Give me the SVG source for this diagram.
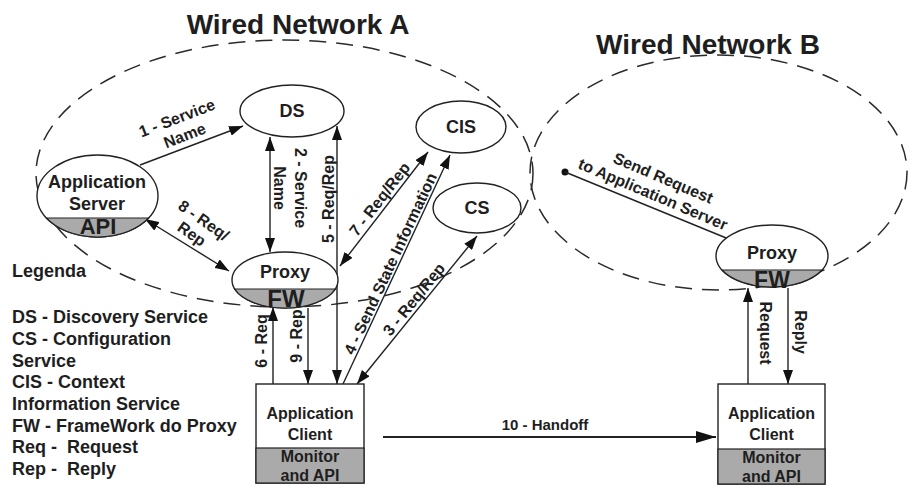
<svg xmlns="http://www.w3.org/2000/svg" width="910" height="486" viewBox="0 0 910 486">
<style>
text{font-family:"Liberation Sans",Arial,sans-serif;font-weight:bold;fill:#1e1e1e}
.t18{font-size:18px}
.t16{font-size:16px}
.lbl{font-size:16px}
.mid{text-anchor:middle}
.title{font-size:28px}
.net{fill:none;stroke:#2a2a2a;stroke-width:1.5;stroke-dasharray:17 10}
.node{fill:#fff;stroke:#222;stroke-width:1.4}
.gray{fill:#aaaaaa;stroke:#222;stroke-width:1.2}
.c{fill:none;stroke:#222;stroke-width:1.4}
.ab{marker-end:url(#ah)}
.as{marker-start:url(#ah)}
.pre{white-space:pre}
</style>
<defs>
<marker id="ah" viewBox="0 0 14 10" refX="14" refY="5" markerWidth="14" markerHeight="10" markerUnits="userSpaceOnUse" orient="auto-start-reverse">
<path d="M0,0 L14,5 L0,10 Z" fill="#111"/>
</marker>
<marker id="ahb" viewBox="0 0 20 12" refX="20" refY="6" markerWidth="20" markerHeight="12" markerUnits="userSpaceOnUse" orient="auto">
<path d="M0,0 L20,6 L0,12 Z" fill="#111"/>
</marker>
</defs>
<rect width="910" height="486" fill="#fff"/>

<g id="networkA">
<ellipse class="net" cx="284.5" cy="173.5" rx="248.5" ry="133.5"/>
<text class="title mid" x="298" y="34">Wired Network A</text>
</g>
<g id="networkB">
<ellipse class="net" cx="718.5" cy="172.5" rx="188.5" ry="117.5"/>
<text class="title mid" x="708" y="54">Wired Network B</text>
</g>

<g id="connectors">
<line class="c ab" x1="140" y1="165" x2="243" y2="126"/>
<line class="c ab as" x1="270" y1="137" x2="270" y2="252"/>
<line class="c ab as" x1="337" y1="126" x2="337" y2="384"/>
<line class="c ab as" x1="340" y1="266" x2="428" y2="152"/>
<line class="c ab" x1="343" y1="384" x2="450" y2="155"/>
<line class="c ab as" x1="357" y1="384" x2="477" y2="236"/>
<line class="c ab" x1="273" y1="384" x2="273" y2="307"/>
<line class="c ab" x1="308" y1="308" x2="308" y2="384"/>
<line class="c ab as" x1="145" y1="219" x2="229" y2="271"/>
<line class="c" x1="383" y1="437" x2="716" y2="437" style="stroke-width:2.2" marker-end="url(#ahb)"/>
<circle cx="565" cy="172" r="3.5" fill="#111"/>
<line class="c" x1="565" y1="172" x2="736" y2="242"/>
<line class="c ab" x1="748" y1="384" x2="748" y2="288"/>
<line class="c ab" x1="788" y1="288" x2="788" y2="384"/>

<g transform="translate(180,126) rotate(-21)">
<text class="lbl mid" x="0" y="-3">1 - Service</text>
<text class="lbl mid" x="1" y="16">Name</text>
</g>
<g transform="translate(288,188) rotate(90)">
<text class="lbl mid" x="0" y="-7">2 - Service</text>
<text class="lbl mid" x="0" y="14">Name</text>
</g>
<text class="lbl mid" transform="translate(334,199) rotate(-90)">5 - Req/Rep</text>
<text class="lbl mid" transform="translate(384,202.5) rotate(-52.3)">7 - Req/Rep</text>
<text class="lbl mid" transform="translate(395.4,266) rotate(-65)">4 - Send State Information</text>
<text class="lbl mid" transform="translate(418.3,302.8) rotate(-51)">3 - Req/Rep</text>
<g transform="translate(204,220) rotate(35)">
<text class="lbl mid" x="0" y="6">8 - Req/</text>
<text class="lbl mid" x="-2" y="24">Rep</text>
</g>
<text class="lbl mid" transform="translate(267,341) rotate(-90)">6 - Req</text>
<text class="lbl mid" transform="translate(302,336) rotate(-90)">9 - Rep</text>
<text class="lbl mid" transform="translate(760,333) rotate(90)">Request</text>
<text class="lbl mid" transform="translate(795,332) rotate(90)">Reply</text>
<text class="mid" x="545" y="430" style="font-size:15px">10 - Handoff</text>
<g transform="translate(661,183) rotate(23)">
<text class="lbl mid" x="0" y="0">Send Request</text>
<text class="lbl mid" x="-3" y="19">to Application Server</text>
</g>
</g>

<g id="ds">
<ellipse class="node" cx="292" cy="111" rx="52" ry="26"/>
<text class="t18 mid" x="292" y="117">DS</text>
</g>
<g id="cis">
<ellipse class="node" cx="461" cy="127" rx="45" ry="26"/>
<text class="t18 mid" x="461" y="133">CIS</text>
</g>
<g id="cs">
<ellipse class="node" cx="477" cy="208" rx="44" ry="25"/>
<text class="t18 mid" x="477" y="214">CS</text>
</g>
<g id="appServer">
<ellipse class="node" cx="97.5" cy="196" rx="60.5" ry="41"/>
<path class="gray" d="M46.4,218 L148.6,218 A60.5,41 0 0 1 46.4,218 Z"/>
<text class="t18 mid" x="97" y="188">Application</text>
<text class="t18 mid" x="97" y="210">Server</text>
<text class="mid" x="98" y="234" style="font-size:22px">API</text>
</g>
<g id="proxyA">
<ellipse class="node" cx="285" cy="280" rx="53" ry="28"/>
<path class="gray" d="M234.8,289 L335.2,289 A53,28 0 0 1 234.8,289 Z"/>
<text class="t18 mid" x="285" y="278">Proxy</text>
<text class="mid" x="286" y="307" style="font-size:24px">FW</text>
</g>
<g id="proxyB">
<ellipse class="node" cx="772" cy="256" rx="56" ry="31"/>
<path class="gray" d="M722,270 L822,270 A56,31 0 0 1 722,270 Z"/>
<text class="t18 mid" x="772" y="259">Proxy</text>
<text class="mid" x="772" y="288" style="font-size:23px">FW</text>
</g>
<g id="clientA">
<rect class="node" x="256" y="384" width="108" height="99"/>
<rect class="gray" x="256" y="448" width="108" height="35"/>
<text class="t16 mid" x="310" y="419">Application</text>
<text class="t16 mid" x="310" y="440">Client</text>
<text class="t16 mid" x="310" y="462">Monitor</text>
<text class="t16 mid" x="310" y="481">and API</text>
</g>
<g id="clientB">
<rect class="node" x="718" y="384" width="107" height="100"/>
<rect class="gray" x="718" y="449" width="107" height="35"/>
<text class="t16 mid" x="771.5" y="419">Application</text>
<text class="t16 mid" x="771.5" y="440">Client</text>
<text class="t16 mid" x="771.5" y="463">Monitor</text>
<text class="t16 mid" x="771.5" y="482">and API</text>
</g>

<g id="legend">
<text class="t18" x="12" y="277">Legenda</text>
<text class="t18" x="12" y="323">DS - Discovery Service</text>
<text class="t18" x="12" y="345">CS - Configuration</text>
<text class="t18" x="12" y="367">Service</text>
<text class="t18" x="12" y="388">CIS - Context</text>
<text class="t18" x="12" y="410">Information Service</text>
<text class="t18" x="12" y="432">FW - FrameWork do Proxy</text>
<text class="t18 pre" x="12" y="453">Req -  Request</text>
<text class="t18 pre" x="12" y="475">Rep -  Reply</text>
</g>
</svg>
